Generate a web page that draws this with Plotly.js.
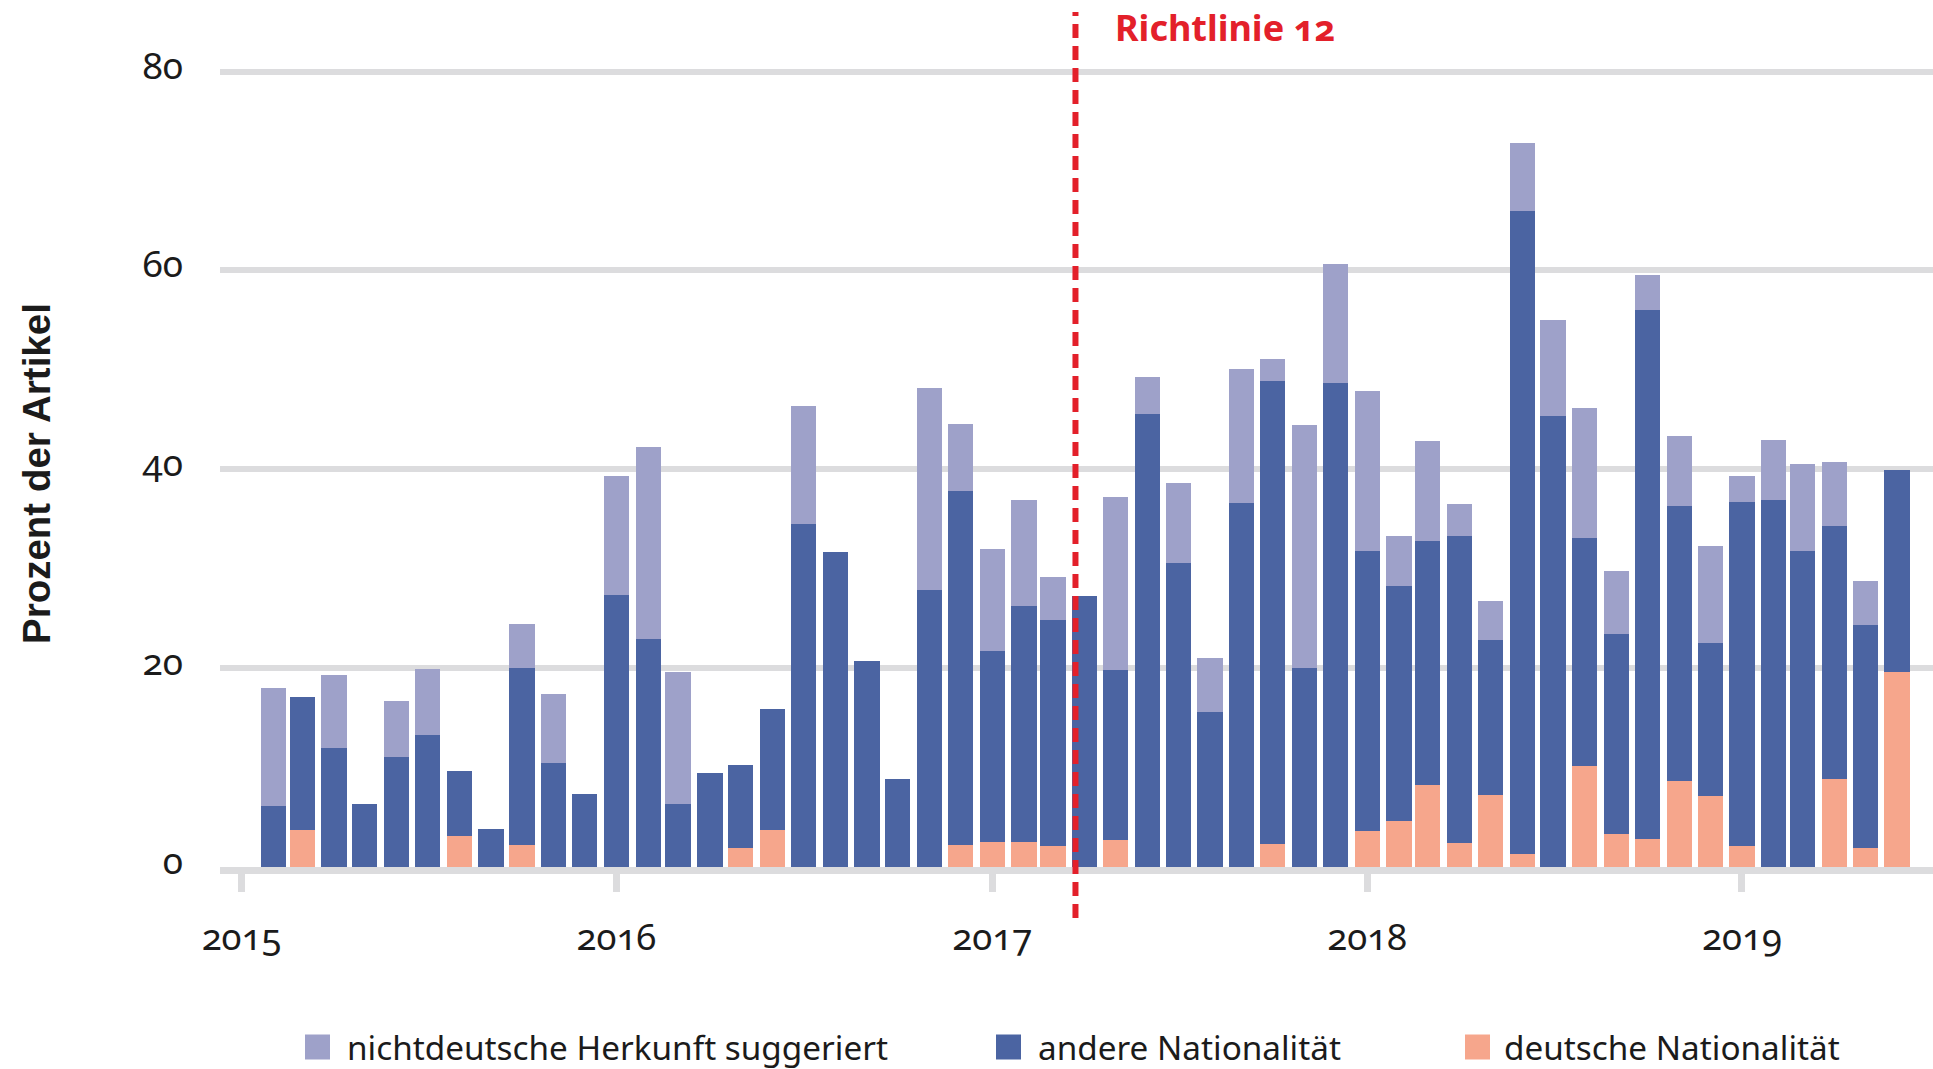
<!DOCTYPE html>
<html>
<head>
<meta charset="utf-8">
<script src="https://cdn.plot.ly/plotly-3.0.1.min.js"></script>
<style>
  html, body { margin: 0; padding: 0; background: #ffffff; }
  #chart { width: 1933px; height: 1069px; }
  .xtick text, .ytick text, .annotation-text { font-variant-numeric: oldstyle-nums; font-feature-settings: "onum" 1; }
</style>
</head>
<body>
<div id="chart"></div>
<script>
// Monthly bars, Feb 2015 - Jun 2019
const months = [
  '2015-02','2015-03','2015-04','2015-05','2015-06','2015-07','2015-08','2015-09','2015-10','2015-11','2015-12',
  '2016-01','2016-02','2016-03','2016-04','2016-05','2016-06','2016-07','2016-08','2016-09','2016-10','2016-11','2016-12',
  '2017-01','2017-02','2017-03','2017-04','2017-05','2017-06','2017-07','2017-08','2017-09','2017-10','2017-11','2017-12',
  '2018-01','2018-02','2018-03','2018-04','2018-05','2018-06','2018-07','2018-08','2018-09','2018-10','2018-11','2018-12',
  '2019-01','2019-02','2019-03','2019-04','2019-05','2019-06'
];

// deutsche Nationalität (bottom)
const deutsch = [
  0, 3.7, 0, 0, 0, 0, 3.1, 0, 2.2, 0, 0,
  0, 0, 0, 0, 1.9, 3.7, 0, 0, 0, 0, 0, 2.2,
  2.5, 2.5, 2.1, 0, 2.7, 0, 0, 0, 0, 2.3, 0, 0,
  3.6, 4.6, 8.2, 2.4, 7.2, 1.3, 0, 10.2, 3.3, 2.8, 8.7, 7.1,
  2.1, 0, 0, 8.9, 1.9, 19.6
];

// andere Nationalität (middle)
const andere = [
  6.1, 13.4, 12.0, 6.3, 11.1, 13.3, 6.6, 3.8, 17.8, 10.5, 7.3,
  27.4, 22.9, 6.3, 9.5, 8.4, 12.2, 34.5, 31.7, 20.7, 8.9, 27.9, 35.6,
  19.2, 23.8, 22.7, 27.3, 17.1, 45.6, 30.6, 15.6, 36.6, 46.6, 20.0, 48.7,
  28.2, 23.7, 24.6, 30.9, 15.6, 64.7, 45.4, 22.9, 20.1, 53.2, 27.6, 15.4,
  34.6, 36.9, 31.8, 25.4, 22.4, 20.3
];

// nichtdeutsche Herkunft suggeriert (top)
const suggeriert = [
  11.9, 0, 7.3, 0, 5.6, 6.6, 0, 0, 4.4, 6.9, 0,
  11.9, 19.3, 13.3, 0, 0, 0, 11.9, 0, 0, 0, 20.3, 6.8,
  10.3, 10.6, 4.4, 0, 17.4, 3.7, 8.0, 5.4, 13.5, 2.2, 24.5, 12.0,
  16.1, 5.0, 10.0, 3.2, 4.0, 6.8, 9.6, 13.1, 6.4, 3.5, 7.1, 9.8,
  2.6, 6.1, 8.7, 6.4, 4.5, 0
];

const yearTicks = ['2015-01-01','2016-01-01','2017-01-01','2018-01-01','2019-01-01'];
const yearLabels = ['2015','2016','2017','2018','2019'];
const yTicks = [0, 20, 40, 60, 80];

const seriesNames = ['deutsche Nationalität', 'andere Nationalität', 'nichtdeutsche Herkunft suggeriert'];
const colors = { deutsch: '#f6a68c', andere: '#4b64a2', suggeriert: '#9ea1c9' };

const guidelineDate = '2017-03-23';
const guidelineLabel = 'Richtlinie 12';
const yTitle = 'Prozent der Artikel';

const x = months.map(m => m + '-01');
const barWidth = 24.6 * 86400000;

const traces = [
  { type: 'bar', name: seriesNames[0], x: x, y: deutsch, marker: { color: colors.deutsch }, width: barWidth },
  { type: 'bar', name: seriesNames[1], x: x, y: andere, marker: { color: colors.andere }, width: barWidth },
  { type: 'bar', name: seriesNames[2], x: x, y: suggeriert, marker: { color: colors.suggeriert }, width: barWidth }
];

// pixel helpers for plot geometry
const W = 1933, H = 1069;
const M = { l: 220, r: 0, t: 12, b: 202 };
const PW = W - M.l - M.r, PH = H - M.t - M.b;
const px = v => (v - M.l) / PW;
const py = v => (H - M.b - v) / PH;

const gray = '#dcdcde';
const textColor = '#1b1b1b';
const font = 'Noto Sans, Open Sans, sans-serif';

// custom legend
const legendItems = [
  { sx: 305, tx: 345, color: colors.suggeriert, label: seriesNames[2] },
  { sx: 996, tx: 1036, color: colors.andere, label: seriesNames[1] },
  { sx: 1465, tx: 1502, color: colors.deutsch, label: seriesNames[0] }
];
const legendY = 1047;
const sq = 25;

const shapes = [
  {
    type: 'line', xref: 'x', yref: 'paper',
    x0: guidelineDate, x1: guidelineDate, y0: py(918), y1: py(12),
    line: { color: '#e3202a', width: 6, dash: '14px,8px' }, layer: 'above'
  }
];
legendItems.forEach(it => {
  shapes.push({
    type: 'rect', xref: 'paper', yref: 'paper',
    x0: px(it.sx), x1: px(it.sx + sq), y0: py(legendY + sq / 2), y1: py(legendY - sq / 2),
    fillcolor: it.color, line: { width: 0 }
  });
});

const annotations = [
  {
    xref: 'x', yref: 'paper', x: guidelineDate, y: py(27), xanchor: 'left', yanchor: 'middle',
    xshift: 38, text: '<b>' + guidelineLabel + '</b>', showarrow: false,
    font: { family: font, size: 36, color: '#e3202a' }
  },
  {
    xref: 'paper', yref: 'paper', x: px(36), y: py(474), xanchor: 'center', yanchor: 'middle',
    textangle: -90, text: '<b>' + yTitle + '</b>', showarrow: false,
    font: { family: 'Liberation Sans, Arial, sans-serif', size: 38.5, color: textColor }
  }
];
legendItems.forEach(it => {
  annotations.push({
    xref: 'paper', yref: 'paper', x: px(it.tx), y: py(legendY), xanchor: 'left', yanchor: 'middle',
    text: it.label, showarrow: false, font: { family: font, size: 33.3, color: textColor }
  });
});

const layout = {
  width: W, height: H,
  margin: M,
  barmode: 'stack',
  showlegend: false,
  paper_bgcolor: '#ffffff',
  plot_bgcolor: '#ffffff',
  font: { family: font, color: textColor },
  xaxis: {
    type: 'date',
    range: ['2014-12-11', '2019-07-06'],
    tickmode: 'array', tickvals: yearTicks, ticktext: yearLabels,
    ticks: 'outside', ticklen: 18, tickwidth: 7, tickcolor: gray,
    showline: true, linewidth: 7, linecolor: gray,
    showgrid: false, zeroline: false,
    tickfont: { family: font, size: 36.5, color: textColor },
    ticklabelstandoff: 14
  },
  yaxis: {
    range: [0, 86],
    tickmode: 'array', tickvals: yTicks,
    showgrid: true, gridcolor: gray, gridwidth: 6,
    zeroline: false, showline: false, ticks: '',
    tickfont: { family: font, size: 37, color: textColor },
    ticklabelstandoff: 36,
    ticklabelshift: -6
  },
  shapes: shapes,
  annotations: annotations
};

Plotly.newPlot('chart', traces, layout, { displayModeBar: false, staticPlot: true });
</script>
</body>
</html>
